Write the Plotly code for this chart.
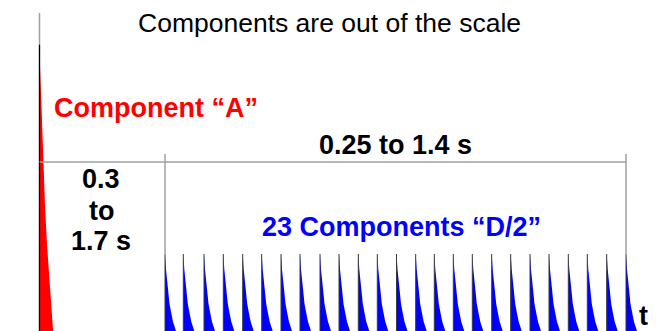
import plotly.graph_objects as go

# ---- data ----
# time axis: arbitrary units (component A at t = 0)
A_TIME = 0.0
A_PEAK = 3.35
D_TIMES = [1.255, 1.438, 1.645, 1.838, 2.032, 2.222, 2.415, 2.605, 2.805, 2.995,
           3.188, 3.378, 3.570, 3.762, 3.948, 4.138, 4.328, 4.522, 4.712, 4.905,
           5.095, 5.288, 5.478, 5.672, 5.865]
D_PEAKS = [1.0] * 25

# decay profiles (offset after the spike, fraction of peak)
A_DECAY_DT = [0, 0.006, 0.015, 0.028, 0.04, 0.055, 0.075, 0.10, 0.135, 0.16]
A_DECAY_H = [1.0, 0.92, 0.84, 0.70, 0.59, 0.46, 0.33, 0.20, 0.045, 0.0]
D_DECAY_DT = [0, 0.01, 0.02, 0.033, 0.045, 0.06, 0.08, 0.11, 0.14, 0.18]
D_DECAY_H = [1.0, 0.83, 0.70, 0.54, 0.44, 0.35, 0.24, 0.135, 0.07, 0.0]

# bracket / axis helpers (amplitude units)
GAP_LEVEL = 2.034
BRACKET_TOP = 2.124
AXIS_TOP = 3.708

# the page has an 8px body margin; the figure fills the rest of the window
OFF = 8
W, H = 656 - OFF, 331 - OFF


def spike_polys(times, peaks, dts, hs):
    xs, ys, ex, ey = [], [], [], []
    for t0, pk in zip(times, peaks):
        xs += [t0, t0] + [t0 + d for d in dts] + [t0, None]
        ys += [0, pk] + [pk * h for h in hs] + [0, None]
        ex += [t0, t0, None]
        ey += [0, pk, None]
    return xs, ys, ex, ey


fig = go.Figure()

ax, ay, aex, aey = spike_polys([A_TIME], [A_PEAK], A_DECAY_DT, A_DECAY_H)
dx, dy, dex, dey = spike_polys(D_TIMES, D_PEAKS, D_DECAY_DT, D_DECAY_H)

fig.add_trace(go.Scatter(x=ax, y=ay, fill="toself", fillcolor="#ff0000",
                         mode="lines", line=dict(width=0), hoverinfo="skip"))
fig.add_trace(go.Scatter(x=dx, y=dy, fill="toself", fillcolor="#0000ff",
                         mode="lines", line=dict(width=0), hoverinfo="skip"))
fig.add_trace(go.Scatter(x=dex, y=dey, mode="lines",
                         line=dict(color="#3a3a3a", width=1), hoverinfo="skip"))
fig.add_trace(go.Scatter(x=aex, y=aey, mode="lines",
                         line=dict(color="#000000", width=1.2), hoverinfo="skip"))

gray = "#a0a0a0"
shapes = [
    dict(type="line", x0=A_TIME, x1=A_TIME, y0=0, y1=AXIS_TOP,
         line=dict(color=gray, width=1.5), layer="below"),
    dict(type="line", x0=A_TIME, x1=D_TIMES[-1], y0=GAP_LEVEL, y1=GAP_LEVEL,
         line=dict(color=gray, width=1.5)),
    dict(type="line", x0=D_TIMES[0], x1=D_TIMES[0], y0=D_PEAKS[0], y1=BRACKET_TOP,
         line=dict(color=gray, width=1.5)),
    dict(type="line", x0=D_TIMES[-1], x1=D_TIMES[-1], y0=D_PEAKS[-1], y1=BRACKET_TOP,
         line=dict(color=gray, width=1.5)),
]


def px(x):
    return (x - OFF) / W


def py(y):
    return 1 - (y - OFF) / H


FONT = "Liberation Sans, Arial, sans-serif"
annotations = [
    dict(text="Components are out of the scale", x=px(329), y=py(23),
         font=dict(family=FONT, size=26.5, color="black")),
    dict(text="<b>Component “A”</b>", x=px(52), y=py(108), xanchor="left",
         font=dict(family=FONT, size=27, color="#ff0000")),
    dict(text="<b>0.25 to 1.4 s</b>", x=px(395), y=py(145),
         font=dict(family=FONT, size=27, color="black")),
    dict(text="<b>0.3</b>", x=px(101), y=py(179),
         font=dict(family=FONT, size=27, color="black")),
    dict(text="<b>to</b>", x=px(101), y=py(211),
         font=dict(family=FONT, size=27, color="black")),
    dict(text="<b>1.7 s</b>", x=px(101), y=py(241),
         font=dict(family=FONT, size=27, color="black")),
    dict(text="<b>23 Components “D/2”</b>", x=px(401), y=py(227),
         font=dict(family=FONT, size=27, color="#0000ff")),
    dict(text="<b>t</b>", x=px(637), y=py(316), xanchor="left",
         font=dict(family=FONT, size=27, color="black")),
]
for a in annotations:
    a.setdefault("xanchor", "center")
    a.update(xref="paper", yref="paper", yanchor="middle", showarrow=False)

fig.update_layout(
    width=W, height=H,
    margin=dict(l=0, r=0, t=0, b=0),
    paper_bgcolor="white", plot_bgcolor="white",
    showlegend=False,
    xaxis=dict(range=[-0.315, 6.165], visible=False, fixedrange=True),
    yaxis=dict(range=[0.135, 3.764], visible=False, fixedrange=True),
    shapes=shapes,
    annotations=annotations,
)

fig.write_html("out.html")
